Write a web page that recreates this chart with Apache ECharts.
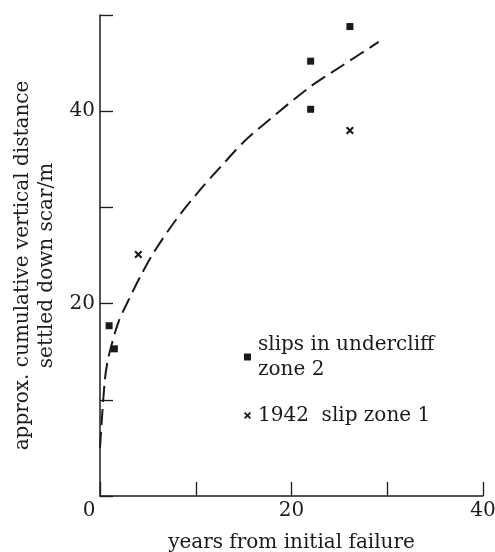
<!DOCTYPE html>
<html><head><meta charset="utf-8">
<script src="https://cdn.jsdelivr.net/npm/echarts@6/dist/echarts.min.js"></script>
<style>html,body{margin:0;padding:0;background:#fff}#c{width:495px;height:552px}</style>
</head><body><div id="c"></div>
<script>
// data
const undercliffPoints = [[0.95, 17.7], [1.5, 15.3], [22.0, 45.2], [22.0, 40.2], [26.1, 48.8]];
const zone1Points = [[4.0, 25.1], [26.1, 38.0]];
const curvePoints = [[0, 5], [0.5, 12], [0.9, 14.5], [1.9, 18], [3, 20.4], [4.2, 22.8], [5.6, 25.3], [8, 28.8], [10.6, 32], [12.4, 34], [15, 36.8], [18.4, 39.7], [21.9, 42.5], [25.4, 44.8], [29.1, 47.2]];
const xLabelled = [0, 20, 40];
const yLabelled = [20, 40];
const seriesNames = ['slips in undercliff\nzone 2', '1942  slip zone 1'];

const FONT = 'DejaVu Serif';
const INK = '#1a1a1a';
const crossPath = 'path://M0,1.8L1.8,0L5,3.2L8.2,0L10,1.8L6.8,5L10,8.2L8.2,10L5,6.8L1.8,10L0,8.2L3.2,5Z';

const chart = echarts.init(document.getElementById('c'));
chart.setOption({
  animation: false,
  backgroundColor: '#fff',
  grid: { left: 100, right: 12, top: 15, bottom: 56, outerBoundsMode: 'none', containLabel: false },
  xAxis: {
    type: 'value', min: 0, max: 40, interval: 10,
    name: 'years from initial failure', nameLocation: 'middle', nameGap: 37,
    nameTextStyle: { fontFamily: FONT, fontSize: 20, color: INK },
    axisLine: { show: true, lineStyle: { color: INK, width: 1.5 } },
    axisTick: { show: true, inside: true, length: 14, lineStyle: { color: INK, width: 1.3 } },
    splitLine: { show: false },
    axisLabel: {
      margin: 5, fontFamily: FONT, fontSize: 20, color: INK,
      formatter: v => xLabelled.includes(v) ? (v === 0 ? '{z|0}' : String(v)) : '',
      rich: { z: { fontFamily: FONT, fontSize: 20, color: INK, padding: [0, 22, 0, 0] } }
    }
  },
  yAxis: {
    type: 'value', min: 0, max: 50, interval: 10,
    name: 'approx. cumulative vertical distance\nsettled down scar/m', nameLocation: 'middle', nameGap: 41,
    nameTextStyle: { fontFamily: FONT, fontSize: 20, color: INK, lineHeight: 24, padding: [0, 20, 0, 0] },
    axisLine: { show: true, lineStyle: { color: INK, width: 1.5 } },
    axisTick: { show: true, inside: true, length: 13, lineStyle: { color: INK, width: 1.3 } },
    splitLine: { show: false },
    axisLabel: {
      margin: 5, fontFamily: FONT, fontSize: 20, color: INK,
      formatter: v => yLabelled.includes(v) ? String(v) : ''
    }
  },
  legend: {
    orient: 'vertical', left: 244, top: 332, itemGap: 21, padding: 0,
    itemWidth: 7, itemHeight: 7,
    data: [
      { name: seriesNames[0], icon: 'rect' },
      { name: seriesNames[1], icon: crossPath }
    ],
    textStyle: { fontFamily: FONT, fontSize: 20, color: INK, lineHeight: 25, padding: [0, 0, 0, 2] }
  },
  series: [
    {
      name: 'curve', type: 'line', data: curvePoints, smooth: 0.3, symbol: 'none',
      lineStyle: { color: INK, width: 2, type: [16, 7] }, z: 1
    },
    {
      name: seriesNames[0], type: 'scatter', data: undercliffPoints, symbol: 'rect', symbolSize: 7,
      itemStyle: { color: INK, opacity: 1 }, z: 3
    },
    {
      name: seriesNames[1], type: 'scatter', data: zone1Points, symbol: crossPath, symbolSize: 8,
      itemStyle: { color: INK, opacity: 1 }, z: 3
    }
  ]
});
</script></body></html>
